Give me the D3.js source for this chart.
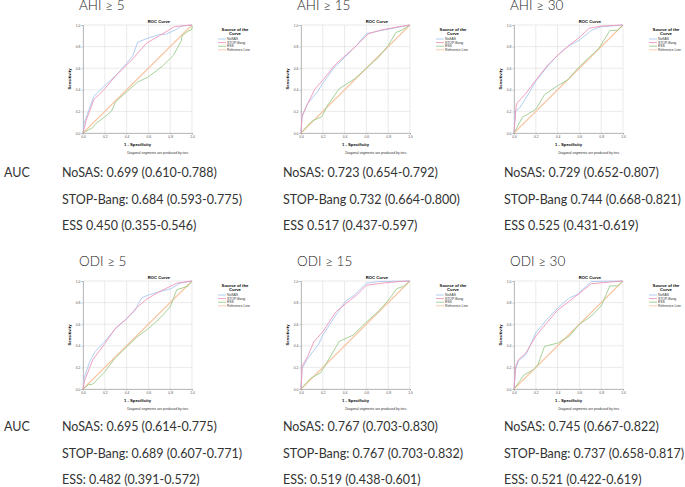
<!DOCTYPE html>
<html>
<head>
<meta charset="utf-8">
<script src="https://cdn.jsdelivr.net/npm/d3@7"></script>
<style>
  body { margin: 0; background: #fff; }
  svg { display: block; }
  .tick text { font-family: "Liberation Sans", sans-serif; }
</style>
</head>
<body>
<svg width="685" height="487"></svg>
<script>
const svg = d3.select('svg');

// panel titles and AUC lines
const titles = ["AHI ≥ 5", "AHI ≥ 15", "AHI ≥ 30", "ODI ≥ 5", "ODI ≥ 15", "ODI ≥ 30"];
const aucNoSAS = ["NoSAS: 0.699 (0.610-0.788)", "NoSAS: 0.723 (0.654-0.792)", "NoSAS: 0.729 (0.652-0.807)",
                  "NoSAS: 0.695 (0.614-0.775)", "NoSAS: 0.767 (0.703-0.830)", "NoSAS: 0.745 (0.667-0.822)"];
const aucStop = ["STOP-Bang: 0.684 (0.593-0.775)", "STOP-Bang 0.732 (0.664-0.800)", "STOP-Bang 0.744 (0.668-0.821)",
                 "STOP-Bang: 0.689 (0.607-0.771)", "STOP-Bang: 0.767 (0.703-0.832)", "STOP-Bang: 0.737 (0.658-0.817)"];
const aucEss = ["ESS 0.450 (0.355-0.546)", "ESS 0.517 (0.437-0.597)", "ESS 0.525 (0.431-0.619)",
                "ESS: 0.482 (0.391-0.572)", "ESS: 0.519 (0.438-0.601)", "ESS: 0.521 (0.422-0.619)"];

const series = ["NoSAS", "STOP-Bang", "ESS", "Reference Line"];
const colors = ["#a8c8f0", "#ee95b8", "#9dcc8a", "#f9c6a2"];
const ticks = [0, 0.2, 0.4, 0.6, 0.8, 1.0];

// ROC points [1 - specificity, sensitivity]
const ahi5NoSAS = [[0,0],[0.01,0.09],[0.1,0.34],[0.2,0.44],[0.3,0.53],[0.4,0.645],[0.46,0.72],[0.5,0.84],[0.6,0.88],[0.7,0.91],[0.76,0.915],[0.86,0.96],[0.9,0.99],[1,1]];
const ahi5Stop = [[0,0],[0.03,0.12],[0.1,0.31],[0.2,0.41],[0.3,0.53],[0.46,0.69],[0.58,0.83],[0.7,0.9],[0.84,0.985],[1,1]];
const ahi5Ess = [[0,0],[0.09,0.05],[0.12,0.09],[0.2,0.15],[0.26,0.2],[0.3,0.29],[0.4,0.38],[0.5,0.47],[0.6,0.52],[0.73,0.62],[0.83,0.72],[0.9,0.85],[0.91,0.9],[0.96,0.94],[1,0.96],[1,1]];

const ahi15NoSAS = [[0,0],[0.01,0.15],[0.06,0.27],[0.15,0.38],[0.2,0.46],[0.3,0.6],[0.4,0.7],[0.51,0.81],[0.6,0.92],[0.74,0.95],[0.9,0.98],[1,1]];
const ahi15Stop = [[0,0],[0.01,0.16],[0.06,0.27],[0.13,0.41],[0.2,0.49],[0.32,0.64],[0.4,0.71],[0.51,0.81],[0.62,0.92],[0.74,0.955],[0.9,0.985],[1,1]];
const ahi15Ess = [[0,0],[0.09,0.1],[0.12,0.12],[0.19,0.15],[0.24,0.25],[0.35,0.41],[0.49,0.5],[0.59,0.59],[0.71,0.7],[0.8,0.81],[0.87,0.93],[0.93,0.955],[1,1]];

const ahi30NoSAS = [[0,0],[0.01,0.2],[0.05,0.23],[0.12,0.34],[0.2,0.48],[0.31,0.62],[0.4,0.72],[0.49,0.8],[0.6,0.86],[0.71,0.95],[0.8,0.985],[1,1]];
const ahi30Stop = [[0,0],[0.02,0.25],[0.03,0.28],[0.12,0.38],[0.2,0.49],[0.31,0.63],[0.4,0.72],[0.51,0.815],[0.6,0.885],[0.69,0.97],[0.8,0.99],[1,1]];
const ahi30Ess = [[0,0],[0.08,0.15],[0.12,0.17],[0.2,0.22],[0.28,0.355],[0.38,0.425],[0.49,0.49],[0.6,0.615],[0.68,0.69],[0.78,0.785],[0.88,0.95],[0.95,0.95],[1,1]];

const odi5NoSAS = [[0,0],[0.01,0.1],[0.06,0.25],[0.11,0.345],[0.2,0.44],[0.3,0.56],[0.4,0.65],[0.47,0.72],[0.54,0.845],[0.6,0.87],[0.7,0.9],[0.81,0.93],[0.89,0.98],[1,1]];
const odi5Stop = [[0,0],[0.015,0.08],[0.09,0.27],[0.2,0.42],[0.3,0.565],[0.4,0.65],[0.49,0.75],[0.58,0.83],[0.7,0.9],[0.86,0.98],[1,1]];
const odi5Ess = [[0,0],[0.05,0.04],[0.09,0.045],[0.2,0.16],[0.29,0.28],[0.4,0.39],[0.5,0.485],[0.6,0.56],[0.69,0.64],[0.8,0.76],[0.86,0.92],[0.96,0.95],[1,1]];

const odi15NoSAS = [[0,0],[0.01,0.19],[0.06,0.28],[0.165,0.42],[0.2,0.5],[0.32,0.685],[0.41,0.815],[0.49,0.87],[0.6,0.98],[0.71,0.995],[1,1]];
const odi15Stop = [[0,0],[0.01,0.21],[0.06,0.3],[0.12,0.44],[0.2,0.53],[0.32,0.715],[0.41,0.79],[0.51,0.87],[0.6,0.96],[0.74,0.98],[0.9,0.995],[1,1]];
const odi15Ess = [[0,0],[0.09,0.1],[0.18,0.15],[0.24,0.25],[0.35,0.44],[0.48,0.5],[0.59,0.61],[0.71,0.72],[0.8,0.82],[0.88,0.93],[0.94,0.95],[1,1]];

const odi30NoSAS = [[0,0],[0.015,0.18],[0.04,0.26],[0.11,0.32],[0.2,0.52],[0.29,0.63],[0.4,0.75],[0.51,0.845],[0.58,0.875],[0.71,0.995],[1,1]];
const odi30Stop = [[0,0],[0.015,0.21],[0.04,0.27],[0.11,0.335],[0.2,0.49],[0.29,0.6],[0.4,0.73],[0.51,0.815],[0.6,0.885],[0.71,0.975],[0.82,0.985],[1,1]];
const odi30Ess = [[0,0],[0.05,0.07],[0.09,0.13],[0.18,0.18],[0.22,0.225],[0.28,0.395],[0.4,0.425],[0.51,0.49],[0.6,0.6],[0.71,0.675],[0.8,0.77],[0.88,0.955],[0.95,0.955],[1,1]];

const refLine = [[0,0],[1,1]];

const curves = [
  [ahi5NoSAS, ahi5Stop, ahi5Ess],
  [ahi15NoSAS, ahi15Stop, ahi15Ess],
  [ahi30NoSAS, ahi30Stop, ahi30Ess],
  [odi5NoSAS, odi5Stop, odi5Ess],
  [odi15NoSAS, odi15Stop, odi15Ess],
  [odi30NoSAS, odi30Stop, odi30Ess]
];

const colLeft = [83, 301, 514];
const rowTop = [25, 281];
const pw = 109, ph = 108;

const x = d3.scaleLinear().domain([0, 1]).range([0, pw]);
const y = d3.scaleLinear().domain([0, 1]).range([ph, 0]);
const line = d3.line().x(d => x(d[0])).y(d => y(d[1]));

curves.forEach((c, i) => {
  const col = i % 3, row = Math.floor(i / 3);
  const g = svg.append('g').attr('transform', `translate(${colLeft[col]}, ${rowTop[row]})`);

  // big title (the top row is clipped by the page edge, as in the original)
  g.append('text')
    .attr('x', -4).attr('y', -15.5)
    .attr('font-family', 'Lato, "Open Sans", sans-serif')
    .attr('font-weight', 300)
    .attr('font-size', 13.5)
    .attr('fill', '#222')
    .text(titles[i]);

  g.append('text')
    .attr('x', 76).attr('y', -2.5)
    .attr('text-anchor', 'middle')
    .attr('font-family', 'Liberation Sans, sans-serif')
    .attr('font-weight', 'bold')
    .attr('font-size', 4.2)
    .text('ROC Curve');

  // grid
  g.append('g').selectAll('line').data(ticks).join('line')
    .attr('x1', d => x(d)).attr('x2', d => x(d)).attr('y1', 0).attr('y2', ph)
    .attr('stroke', '#dcdcdc').attr('stroke-width', 0.6);
  g.append('g').selectAll('line').data(ticks).join('line')
    .attr('x1', 0).attr('x2', pw).attr('y1', d => y(d)).attr('y2', d => y(d))
    .attr('stroke', '#dcdcdc').attr('stroke-width', 0.6);

  const xAxis = g.append('g').attr('transform', `translate(0, ${ph})`)
    .call(d3.axisBottom(x).tickValues(ticks).tickFormat(d3.format('.1f')).tickSize(1.5).tickPadding(1));
  const yAxis = g.append('g')
    .call(d3.axisLeft(y).tickValues(ticks).tickFormat(d3.format('.1f')).tickSize(1.5).tickPadding(1));
  [xAxis, yAxis].forEach(a => {
    a.selectAll('text').attr('font-size', 3.4).attr('fill', '#555');
    a.selectAll('line').attr('stroke', '#999').attr('stroke-width', 0.5);
    a.select('.domain').attr('stroke', '#999').attr('stroke-width', 0.6);
  });

  // reference + curves
  const all = [c[0], c[1], c[2], refLine];
  g.append('path').datum(refLine).attr('d', line)
    .attr('fill', 'none').attr('stroke', colors[3]).attr('stroke-width', 1.1);
  [2, 0, 1].forEach(k => {
    g.append('path').datum(all[k]).attr('d', line)
      .attr('fill', 'none').attr('stroke', colors[k]).attr('stroke-width', 0.9);
  });

  // axis labels
  g.append('text')
    .attr('transform', `translate(-12, ${ph / 2}) rotate(-90)`)
    .attr('text-anchor', 'middle')
    .attr('font-family', 'Liberation Sans, sans-serif').attr('font-weight', 'bold')
    .attr('font-size', 4.2).text('Sensitivity');
  g.append('text')
    .attr('x', pw / 2).attr('y', ph + 12.5)
    .attr('text-anchor', 'middle')
    .attr('font-family', 'Liberation Sans, sans-serif').attr('font-weight', 'bold')
    .attr('font-size', 4.2).text('1 - Specificity');
  g.append('text')
    .attr('x', 75).attr('y', ph + 21)
    .attr('text-anchor', 'middle')
    .attr('font-family', 'Liberation Sans, sans-serif')
    .attr('font-size', 3.4).attr('fill', '#333').text('Diagonal segments are produced by ties.');

  // legend
  const lg = g.append('g').attr('transform', `translate(135, 0)`);
  lg.append('text').attr('x', 17).attr('y', 5.5).attr('text-anchor', 'middle')
    .attr('font-family', 'Liberation Sans, sans-serif').attr('font-weight', 'bold')
    .attr('font-size', 4.2).text('Source of the');
  lg.append('text').attr('x', 17).attr('y', 10).attr('text-anchor', 'middle')
    .attr('font-family', 'Liberation Sans, sans-serif').attr('font-weight', 'bold')
    .attr('font-size', 4.2).text('Curve');
  series.forEach((s, k) => {
    const yy = 14 + k * 3.6;
    lg.append('line').attr('x1', 0).attr('x2', 8).attr('y1', yy).attr('y2', yy)
      .attr('stroke', colors[k]).attr('stroke-width', 0.9);
    lg.append('text').attr('x', 9).attr('y', yy + 1.2)
      .attr('font-family', 'Liberation Sans, sans-serif')
      .attr('font-size', 3.4).attr('fill', '#333').text(s);
  });
});

// AUC text blocks
const textLeft = [62, 283, 504];
const textBase = [177, 431];
const lineGap = 26.5;
const tf = 'Lato, "Open Sans", sans-serif';
textBase.forEach((b, row) => {
  svg.append('text').attr('x', 4).attr('y', b)
    .attr('font-family', tf).attr('font-size', 12.5).attr('fill', '#333').text('AUC');
  for (let col = 0; col < 3; col++) {
    const i = row * 3 + col;
    [aucNoSAS[i], aucStop[i], aucEss[i]].forEach((t, k) => {
      svg.append('text').attr('x', textLeft[col]).attr('y', b + k * lineGap)
        .attr('font-family', tf).attr('font-size', 12.5).attr('fill', '#333').text(t);
    });
  }
});
</script>
</body>
</html>
